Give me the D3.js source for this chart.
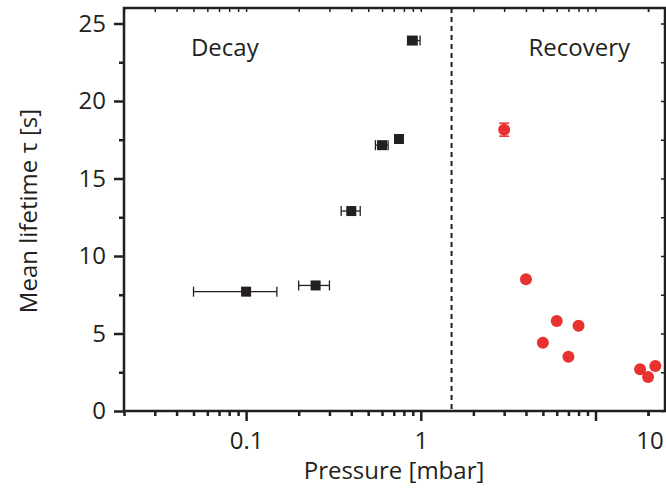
<!DOCTYPE html>
<html>
<head>
<meta charset="utf-8">
<script src="https://cdn.jsdelivr.net/npm/d3@7"></script>
<style>
  body { margin: 0; background: #fff; }
  svg text { font-family: "Open Sans", sans-serif; fill: #231f20; }
</style>
</head>
<body>
<svg id="chart" width="666" height="493"></svg>
<script>
// decay data (black squares)
const decayP = [0.1, 0.25, 0.4, 0.6, 0.75, 0.9]
const decayPLow = [0.05, 0.2, 0.35, 0.55, 0.73, 0.84]
const decayPHigh = [0.15, 0.3, 0.45, 0.65, 0.77, 0.99]
const decayTau = [7.7, 8.1, 12.9, 17.15, 17.55, 23.9]

// recovery data (red circles)
const recP = [3, 4, 5, 6, 7, 8, 18, 20, 22]
const recTau = [18.15, 8.5, 4.4, 5.8, 3.5, 5.5, 2.7, 2.2, 2.9]
const recTauErr = [0.42, 0, 0, 0, 0, 0, 0, 0, 0]

const xTicks = [0.1, 1, 10]
const yTicks = [0, 5, 10, 15, 20, 25]
const boundary = 1.5

const margin = { left: 124, right: 1, top: 8, bottom: 82 }
const width = 666 - margin.left - margin.right
const height = 493 - margin.top - margin.bottom
const fontSize = '24px'

const svg = d3.select('#chart')
const g = svg.append('g').attr('transform', `translate(${margin.left},${margin.top})`)

// scales //
const x = d3.scaleLog().domain([0.02, 25]).range([0, width])
const y = d3.scaleLinear().domain([0, 26]).range([height, 0])

// minor ticks
const xMinor = []
for (let d = 0.01; d <= 10; d *= 10) {
    for (let k = 2; k <= 9; k++) {
        const v = +(d * k).toPrecision(3)
        if (v >= 0.02 && v <= 25 && !xTicks.includes(v)) xMinor.push(v)
    }
}
xMinor.push(20)
const yMinor = d3.range(2.5, 26, 5)

const axisColor = '#231f20'

// bottom axis
const xAxis = g.append('g')
    .attr('transform', `translate(0,${height})`)
    .call(d3.axisBottom(x).tickValues(xTicks).tickFormat(d => d).tickSize(10).tickPadding(11))
xAxis.select('.domain').remove()
xAxis.selectAll('.tick line').attr('stroke', axisColor).attr('stroke-width', 2.5)
xAxis.selectAll('.tick text').style('font-size', fontSize)
// the "10" label sits to the right in the original figure
xAxis.selectAll('.tick text').filter(d => d === 10).attr('dx', 54)

g.append('g')
    .attr('transform', `translate(0,${height})`)
    .call(d3.axisBottom(x).tickValues(xMinor).tickFormat('').tickSize(5))
    .call(a => a.select('.domain').remove())
    .selectAll('.tick line').attr('stroke', axisColor).attr('stroke-width', 2.5)

// top mirror ticks (inward)
g.append('g')
    .call(d3.axisTop(x).tickValues(xTicks.concat(xMinor)).tickFormat('').tickSize(-4))
    .call(a => a.select('.domain').remove())
    .selectAll('.tick line').attr('stroke', axisColor).attr('stroke-width', 1.5)

// left axis
const yAxis = g.append('g')
    .call(d3.axisLeft(y).tickValues(yTicks).tickSize(10).tickPadding(8))
yAxis.select('.domain').remove()
yAxis.selectAll('.tick line').attr('stroke', axisColor).attr('stroke-width', 2.5)
yAxis.selectAll('.tick text').style('font-size', fontSize)

g.append('g')
    .call(d3.axisLeft(y).tickValues(yMinor).tickFormat('').tickSize(5))
    .call(a => a.select('.domain').remove())
    .selectAll('.tick line').attr('stroke', axisColor).attr('stroke-width', 2.5)

// right mirror ticks (inward)
g.append('g')
    .attr('transform', `translate(${width},0)`)
    .call(d3.axisRight(y).tickValues(yTicks.concat(yMinor)).tickFormat('').tickSize(-4))
    .call(a => a.select('.domain').remove())
    .selectAll('.tick line').attr('stroke', axisColor).attr('stroke-width', 1.5)

// frame
g.append('rect')
    .attr('width', width).attr('height', height)
    .attr('fill', 'none').attr('stroke', axisColor).attr('stroke-width', 2.5)

// boundary line
g.append('line')
    .attr('x1', x(boundary)).attr('x2', x(boundary))
    .attr('y1', 0).attr('y2', height)
    .attr('stroke', axisColor).attr('stroke-width', 2)
    .attr('stroke-dasharray', '5,4')

// region labels
g.append('text').attr('x', x(0.0755)).attr('y', 48)
    .attr('text-anchor', 'middle').style('font-size', fontSize).text('Decay')
g.append('text').attr('x', x(8.07)).attr('y', 48)
    .attr('text-anchor', 'middle').style('font-size', fontSize).text('Recovery')

// axis titles
svg.append('text')
    .attr('x', 394).attr('y', 479)
    .attr('text-anchor', 'middle').style('font-size', fontSize).text('Pressure [mbar]')
svg.append('text')
    .attr('transform', `translate(37,211) rotate(-90)`)
    .attr('text-anchor', 'middle').style('font-size', fontSize).text('Mean lifetime τ [s]')

// decay error bars
const decay = decayP.map((p, i) => ({ p, lo: decayPLow[i], hi: decayPHigh[i], tau: decayTau[i] }))
const errG = g.append('g').attr('stroke', '#231f20').attr('stroke-width', 1.3)
decay.forEach(d => {
    errG.append('line')
        .attr('x1', x(d.lo)).attr('x2', x(d.hi))
        .attr('y1', y(d.tau)).attr('y2', y(d.tau))
    if (d.hi - d.lo > 0.05) {
        [d.lo, d.hi].forEach(v => errG.append('line')
            .attr('x1', x(v)).attr('x2', x(v))
            .attr('y1', y(d.tau) - 5).attr('y2', y(d.tau) + 5))
    }
})

// decay squares
g.append('g').selectAll('rect')
    .data(decay)
    .join('rect')
    .attr('x', d => x(d.p) - 5)
    .attr('y', d => y(d.tau) - 5)
    .attr('width', 10).attr('height', 10)
    .attr('fill', '#231f20')

// recovery
const rec = recP.map((p, i) => ({ p, tau: recTau[i], err: recTauErr[i] }))
const recErr = g.append('g').attr('stroke', '#e8322f').attr('stroke-width', 1.5)
rec.filter(d => d.err > 0).forEach(d => {
    recErr.append('line')
        .attr('x1', x(d.p)).attr('x2', x(d.p))
        .attr('y1', y(d.tau - d.err)).attr('y2', y(d.tau + d.err))
    ;[d.tau - d.err, d.tau + d.err].forEach(v => recErr.append('line')
        .attr('x1', x(d.p) - 5).attr('x2', x(d.p) + 5)
        .attr('y1', y(v)).attr('y2', y(v)))
})

g.append('g').selectAll('circle')
    .data(rec)
    .join('circle')
    .attr('cx', d => x(d.p))
    .attr('cy', d => y(d.tau))
    .attr('r', 6)
    .attr('fill', '#e8322f')
</script>
</body>
</html>
